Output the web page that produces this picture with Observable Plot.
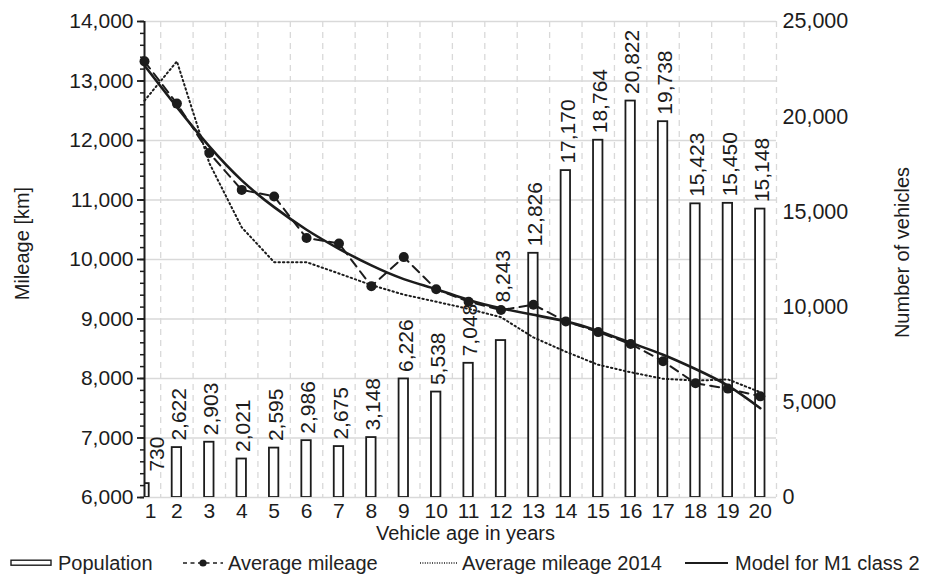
<!DOCTYPE html>
<html>
<head>
<meta charset="utf-8">
<script src="https://cdn.jsdelivr.net/npm/d3@7"></script>
<script src="https://cdn.jsdelivr.net/npm/@observablehq/plot@0.6"></script>
<style>
  body { margin: 0; background: #fff; font-family: "Liberation Sans", Arial, sans-serif; }
  #chart { width: 925px; height: 574px; position: relative; }
  .legend { position: relative; width: 925px; height: 22px; font-size: 20px; color: #222; }
  .legend .item { position: absolute; top: 0; height: 22px; display: flex; align-items: center; white-space: nowrap; }
  .legend svg { display: block; margin-right: 5px; }
</style>
</head>
<body>
<div id="chart"></div>
<script>
// Vehicle age (years) on the x axis
const ages = [1, 2, 3, 4, 5, 6, 7, 8, 9, 10, 11, 12, 13, 14, 15, 16, 17, 18, 19, 20];
// Population: number of vehicles per age (right axis)
const vehicles = [730, 2622, 2903, 2021, 2595, 2986, 2675, 3148, 6226, 5538,
                  7048, 8243, 12826, 17170, 18764, 20822, 19738, 15423, 15450, 15148];
// Average mileage per year of age [km]
const avgMileage = [13330, 12620, 11790, 11170, 11060, 10360, 10270, 9550, 10040, 9500,
                    9290, 9150, 9240, 8960, 8780, 8580, 8290, 7920, 7830, 7700];
// Average mileage 2014 [km]
const avgMileage2014 = [12670, 13330, 11620, 10540, 9955, 9955, 9765, 9570, 9410, 9290,
                        9170, 9030, 8690, 8450, 8230, 8105, 7995, 7965, 7985, 7770];
// Model for M1 class 2 [km]
const modelM1 = [13260, 12560, 11900, 11330, 10880, 10500, 10180, 9900, 9670, 9500,
                 9320, 9180, 9070, 8960, 8800, 8600, 8400, 8160, 7880, 7500];
// Axis ticks
const mileageTicks = [6000, 7000, 8000, 9000, 10000, 11000, 12000, 13000, 14000];
const mileageMinorTicks = d3.range(6000, 14001, 200);
const vehicleTicks = [0, 5000, 10000, 15000, 20000, 25000];

// Vehicle counts share the mileage y scale: 0–25,000 vehicles span 6,000–14,000 km
const mileageMin = 6000, mileageMax = 14000, vehicleMax = 25000;
const toMileage = n => mileageMin + n * (mileageMax - mileageMin) / vehicleMax;
const fmt = d3.format(",");

const rows = ages.map((age, i) => ({
  age,
  vehicles: vehicles[i],
  avg: avgMileage[i],
  avg2014: avgMileage2014[i],
  model: modelM1[i]
}));

const ink = "#1c1c1c";
const gridColor = "#d9d9d9";
const numberSize = 21;
const titleSize = 20;
const labelStyle = {
  x: "age",
  y: d => toMileage(d.vehicles),
  text: d => fmt(d.vehicles),
  rotate: -90,
  textAnchor: "start",
  lineAnchor: "middle",
  fill: ink,
  fontSize: numberSize
};

const chart = Plot.plot({
  width: 925,
  height: 552,
  marginLeft: 144,
  marginRight: 149,
  marginTop: 21,
  marginBottom: 55,
  style: { fontFamily: "'Liberation Sans', Arial, sans-serif", fontSize: "20px", color: ink, background: "#fff", overflow: "visible" },
  x: { domain: [1, 20.5], axis: null },
  y: { domain: [mileageMin, mileageMax], axis: null },
  marks: [
    // grid
    Plot.ruleY(mileageTicks, { stroke: gridColor, strokeWidth: 1.5 }),
    Plot.ruleX(ages.map(a => a + 0.5), { stroke: gridColor, strokeWidth: 1.3, strokeDasharray: "6,5" }),

    // population bars
    Plot.rectY(rows, {
      x1: d => d.age - 0.5, x2: d => d.age + 0.5,
      y1: () => toMileage(0), y2: d => toMileage(d.vehicles),
      insetLeft: 11.5, insetRight: 11.5,
      fill: "#fff", stroke: ink, strokeWidth: 1.8, clip: true
    }),
    // population labels
    Plot.text(rows.filter(d => d.age !== 1 && d.age !== 12), { ...labelStyle, dx: 2, dy: -7 }),
    Plot.text(rows.filter(d => d.age === 1), { ...labelStyle, dx: 13, dy: -12 }),
    Plot.text(rows.filter(d => d.age === 12), { ...labelStyle, dx: 2, dy: -38 }),

    // mileage series
    Plot.line(rows, { x: "age", y: "avg2014", stroke: ink, strokeWidth: 2, strokeDasharray: "1.4,3" }),
    Plot.line(rows, { x: "age", y: "avg", stroke: ink, strokeWidth: 2, strokeDasharray: "9,6" }),
    Plot.dot(rows, { x: "age", y: "avg", r: 5, fill: ink }),
    Plot.line(rows, { x: "age", y: "model", stroke: ink, strokeWidth: 2.6, curve: "natural" }),

    // left axis
    Plot.ruleX([1], { stroke: ink, strokeWidth: 2 }),
    Plot.axisY(mileageMinorTicks, { anchor: "left", tickSize: 4, tickFormat: () => "", label: null, stroke: ink, strokeWidth: 1.5 }),
    Plot.axisY(mileageTicks, { anchor: "left", tickSize: 7, tickPadding: 4, tickFormat: fmt, label: null, stroke: ink, strokeWidth: 1.8, fill: ink, fontSize: numberSize }),
    // right axis (vehicle counts)
    Plot.text(vehicleTicks, { y: d => toMileage(d), text: d => fmt(d), frameAnchor: "right", textAnchor: "start", dx: 6, fill: ink, fontSize: 21.5 }),
    // x axis
    Plot.axisX(ages.filter(a => a !== 1), { tickSize: 0, tickPadding: 6, label: null, fill: ink, fontSize: numberSize }),
    Plot.axisX(ages.filter(a => a === 1), { tickSize: 0, tickPadding: 6, dx: 6, label: null, fill: ink, fontSize: numberSize }),

    // axis titles
    Plot.text(["Mileage [km]"], { frameAnchor: "left", textAnchor: "middle", lineAnchor: "middle", dx: -122, dy: -16, rotate: -90, fill: ink, fontSize: titleSize }),
    Plot.text(["Number of vehicles"], { frameAnchor: "right", textAnchor: "middle", lineAnchor: "middle", dx: 126, dy: -7, rotate: -90, fill: ink, fontSize: titleSize }),
    Plot.text(["Vehicle age in years"], { frameAnchor: "bottom", textAnchor: "middle", lineAnchor: "middle", dx: 5, dy: 36, fill: ink, fontSize: titleSize })
  ]
});

const root = document.getElementById("chart");
root.appendChild(chart);

// legend below the chart
const legend = document.createElement("div");
legend.className = "legend";
legend.innerHTML = `
  <div class="item" style="left:10px">
    <svg width="43" height="10"><rect x="1" y="2.2" width="40" height="5" fill="#fff" stroke="${ink}" stroke-width="1.4"/></svg>
    <span>Population</span>
  </div>
  <div class="item" style="left:183px">
    <svg width="40" height="10"><line x1="0" y1="5" x2="40" y2="5" stroke="${ink}" stroke-width="1.6" stroke-dasharray="4,3.5"/><circle cx="20" cy="5" r="3.6" fill="${ink}"/></svg>
    <span>Average mileage</span>
  </div>
  <div class="item" style="left:420px">
    <svg width="37" height="10"><line x1="0" y1="5" x2="37" y2="5" stroke="${ink}" stroke-width="1.3" stroke-dasharray="1,1.4"/></svg>
    <span>Average mileage 2014</span>
  </div>
  <div class="item" style="left:685px">
    <svg width="45" height="10"><line x1="0" y1="5" x2="43" y2="5" stroke="${ink}" stroke-width="2"/></svg>
    <span>Model for M1 class 2</span>
  </div>`;
root.appendChild(legend);
</script>
</body>
</html>
